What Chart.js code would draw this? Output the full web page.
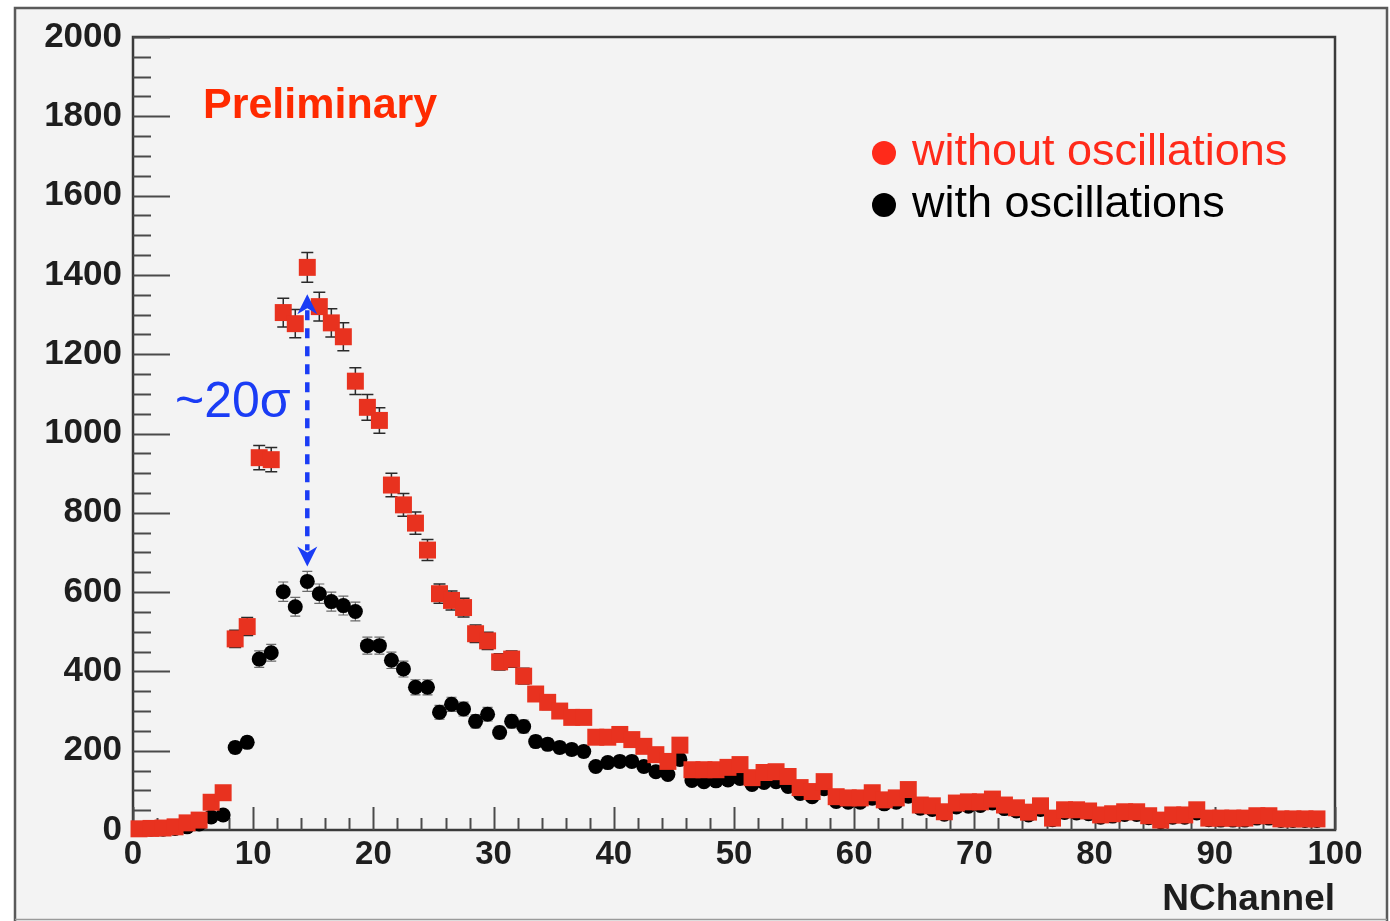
<!DOCTYPE html>
<html>
<head>
<meta charset="utf-8">
<script src="https://cdn.jsdelivr.net/npm/chart.js@4.4.1/dist/chart.umd.min.js"></script>
<style>
  html, body { margin: 0; padding: 0; background: #ffffff; }
  #wrap { width: 1390px; height: 921px; position: relative; }
</style>
</head>
<body>
<div id="wrap"><canvas id="c" width="1390" height="921"></canvas></div>
<script>
// NChannel histogram: 100 bins of width 1 from 0 to 100
const NBINS = 100;
const BIN_WIDTH = 1;

// Event counts per bin, expected without oscillations (red squares)
const countsNoOsc = [
  3, 4, 5, 8, 18, 25, 70, 94, 482, 513,
  939, 934, 1305, 1277, 1419, 1320, 1279, 1244, 1132, 1066,
  1033, 870, 820, 774, 706, 596, 579, 561, 495, 477,
  424, 431, 388, 343, 322, 300, 284, 284, 234, 234,
  241, 228, 211, 190, 173, 214, 152, 152, 152, 158,
  165, 132, 145, 147, 135, 107, 97, 122, 84, 81,
  81, 94, 76, 81, 102, 63, 61, 46, 68, 71,
  71, 78, 63, 56, 45, 61, 30, 51, 51, 48,
  38, 41, 46, 46, 36, 25, 38, 38, 51, 30,
  30, 30, 30, 36, 36, 28, 28, 28, 28, null
];

// Event counts per bin, expected with oscillations (black dots)
const countsOsc = [
  1, 2, 2, 4, 8, 15, 33, 38, 208, 221,
  431, 447, 601, 563, 627, 596, 576, 566, 551, 465,
  465, 428, 406, 360, 360, 297, 317, 305, 274, 292,
  246, 274, 261, 223, 216, 208, 203, 198, 160, 170,
  173, 173, 160, 147, 140, 178, 125, 122, 124, 126,
  130, 115, 120, 122, 110, 92, 84, 104, 72, 70,
  70, 80, 66, 70, 85, 55, 52, 40, 58, 60,
  62, 68, 54, 48, 38, 52, 26, 44, 43, 41,
  32, 35, 39, 39, 31, 21, 32, 32, 43, 26,
  25, 25, 25, 30, 30, 24, 24, 24, 24, null
];

// Axis tick labels
const xTickLabels = ['0', '10', '20', '30', '40', '50', '60', '70', '80', '90', '100'];
const yTickLabels = ['0', '200', '400', '600', '800', '1000', '1200', '1400', '1600', '1800', '2000'];

const seriesLabels = ['without oscillations', 'with oscillations'];
const xTitle = 'NChannel';
const stampText = 'Preliminary';
const significanceText = '~20\u03c3';
const peakBin = 14;

const RED = '#e8321f';
const RED_TEXT = '#ff2a1a';
const BLUE = '#1a3cf5';
const INK = '#1e1e1e';
const FONT = '"Liberation Sans", Arial, Helvetica, sans-serif';

function toPoints(counts) {
  const pts = [];
  counts.forEach((v, i) => {
    if (v !== null) pts.push({ x: i * BIN_WIDTH + BIN_WIDTH / 2, y: v });
  });
  return pts;
}

const framePlugin = {
  id: 'frame',
  beforeDraw(chart) {
    const ctx = chart.ctx;
    ctx.save();
    ctx.fillStyle = '#ffffff';
    ctx.fillRect(0, 0, chart.width, chart.height);
    // canvas panel
    ctx.fillStyle = '#f3f3f3';
    ctx.fillRect(15, 8, 1372, 913);
    ctx.strokeStyle = '#5a5a5a';
    ctx.lineWidth = 2.5;
    ctx.beginPath();
    ctx.moveTo(15, 921);
    ctx.lineTo(15, 8);
    ctx.lineTo(1387, 8);
    ctx.lineTo(1387, 921);
    ctx.stroke();
    ctx.beginPath();
    ctx.moveTo(15, 919.5);
    ctx.lineTo(1387, 919.5);
    ctx.lineWidth = 1.5;
    ctx.strokeStyle = '#9a9a9a';
    ctx.stroke();
    ctx.restore();
  },
  beforeDatasetsDraw(chart) {
    const ctx = chart.ctx;
    const a = chart.chartArea;
    const xs = chart.scales.x, ys = chart.scales.y;
    ctx.save();
    // plot frame
    ctx.strokeStyle = '#3a3a3a';
    ctx.lineWidth = 2.5;
    ctx.strokeRect(a.left, a.top, a.right - a.left, a.bottom - a.top);

    // y ticks (inward): major every 200, minor every 50
    ctx.strokeStyle = '#4a4a4a';
    ctx.lineWidth = 2;
    for (let v = 0; v <= 2000; v += 50) {
      const py = Math.round(ys.getPixelForValue(v)) + 0.5;
      const len = (v % 200 === 0) ? 37 : 18;
      ctx.beginPath();
      ctx.moveTo(a.left, py);
      ctx.lineTo(a.left + len, py);
      ctx.stroke();
    }
    // x ticks (inward): major every 10, minor every 2
    for (let v = 0; v <= 100; v += 2) {
      const px = Math.round(xs.getPixelForValue(v)) + 0.5;
      const len = (v % 10 === 0) ? 23 : 12;
      ctx.beginPath();
      ctx.moveTo(px, a.bottom);
      ctx.lineTo(px, a.bottom - len);
      ctx.stroke();
    }

    // statistical error bars (sqrt N)
    const bars = [
      { counts: countsOsc, color: '#6a6a6a', width: 1.2, cap: 5 },
      { counts: countsNoOsc, color: '#2a2a2a', width: 1.5, cap: 6 }
    ];
    bars.forEach(b => {
      ctx.strokeStyle = b.color;
      ctx.lineWidth = b.width;
      b.counts.forEach((v, i) => {
        if (v === null) return;
        const px = xs.getPixelForValue(i * BIN_WIDTH + BIN_WIDTH / 2);
        const e = Math.sqrt(v);
        const y1 = ys.getPixelForValue(v + e);
        const y2 = ys.getPixelForValue(Math.max(0, v - e));
        ctx.beginPath();
        ctx.moveTo(px, y1); ctx.lineTo(px, y2);
        ctx.moveTo(px - b.cap, y1); ctx.lineTo(px + b.cap, y1);
        ctx.moveTo(px - b.cap, y2); ctx.lineTo(px + b.cap, y2);
        ctx.stroke();
      });
    });
    ctx.restore();
  },
  afterDatasetsDraw(chart) {
    const ctx = chart.ctx;
    const a = chart.chartArea;
    const xs = chart.scales.x, ys = chart.scales.y;
    ctx.save();

    // stamp
    ctx.fillStyle = '#ff2a00';
    ctx.font = 'bold 43px ' + FONT;
    ctx.textBaseline = 'alphabetic';
    ctx.textAlign = 'left';
    ctx.fillText(stampText, 203, 118);

    // legend
    ctx.font = '45px ' + FONT;
    const legendRows = [
      { text: seriesLabels[0], color: RED_TEXT, dot: '#ff2a1a', y: 165 },
      { text: seriesLabels[1], color: '#000000', dot: '#000000', y: 217 }
    ];
    legendRows.forEach(r => {
      ctx.fillStyle = r.dot;
      ctx.beginPath();
      ctx.arc(884, r.y - 12, 12, 0, Math.PI * 2);
      ctx.fill();
      ctx.fillStyle = r.color;
      ctx.fillText(r.text, 912, r.y);
    });

    // x axis title
    ctx.fillStyle = INK;
    ctx.font = 'bold 37px ' + FONT;
    ctx.textAlign = 'right';
    ctx.fillText(xTitle, a.right, 910);

    // double-headed dashed arrow between the two spectra at the peak bin
    const px = xs.getPixelForValue(peakBin * BIN_WIDTH + BIN_WIDTH / 2);
    const rv = countsNoOsc[peakBin], bv = countsOsc[peakBin];
    const yTop = ys.getPixelForValue(rv - Math.sqrt(rv)) + 12;
    const yBot = ys.getPixelForValue(bv + Math.sqrt(bv)) - 5;
    const head = 20;
    ctx.strokeStyle = BLUE;
    ctx.fillStyle = BLUE;
    ctx.lineWidth = 4.5;
    ctx.setLineDash([10, 8]);
    ctx.beginPath();
    ctx.moveTo(px, yTop + head - 4);
    ctx.lineTo(px, yBot - head + 4);
    ctx.stroke();
    ctx.setLineDash([]);
    function arrowHead(tipY, dir) {
      ctx.beginPath();
      ctx.moveTo(px, tipY);
      ctx.lineTo(px - 10, tipY + dir * head);
      ctx.lineTo(px, tipY + dir * (head - 6));
      ctx.lineTo(px + 10, tipY + dir * head);
      ctx.closePath();
      ctx.fill();
    }
    arrowHead(yTop, 1);
    arrowHead(yBot, -1);

    ctx.font = '50px ' + FONT;
    ctx.textAlign = 'left';
    ctx.fillText(significanceText, 175, 417);
    ctx.restore();
  }
};

const ctx = document.getElementById('c').getContext('2d');
new Chart(ctx, {
  type: 'scatter',
  data: {
    datasets: [
      {
        label: seriesLabels[0],
        data: toPoints(countsNoOsc),
        pointStyle: 'rect',
        pointRadius: 12,
        backgroundColor: RED,
        borderWidth: 0,
        order: 0,
        clip: false
      },
      {
        label: seriesLabels[1],
        data: toPoints(countsOsc),
        pointStyle: 'circle',
        pointRadius: 7.5,
        backgroundColor: '#000000',
        borderWidth: 0,
        order: 1,
        clip: false
      }
    ]
  },
  options: {
    responsive: false,
    animation: false,
    devicePixelRatio: 1,
    layout: { padding: { top: 37, right: 55, left: 0, bottom: 0 } },
    plugins: { legend: { display: false }, tooltip: { enabled: false } },
    scales: {
      x: {
        type: 'linear', min: 0, max: NBINS * BIN_WIDTH,
        grid: { display: false, drawTicks: false },
        border: { display: false },
        ticks: {
          stepSize: 10,
          autoSkip: false,
          maxRotation: 0,
          padding: 5,
          color: INK,
          font: { family: FONT, size: 33, weight: 'bold' },
          callback: (v) => xTickLabels[v / 10]
        },
        afterFit(s) { s.height = 91; }
      },
      y: {
        min: 0, max: 2000,
        grid: { display: false, drawTicks: false },
        border: { display: false },
        ticks: {
          stepSize: 200,
          autoSkip: false,
          padding: 11,
          color: INK,
          font: { family: FONT, size: 35, weight: 'bold' },
          callback: (v) => yTickLabels[v / 200]
        },
        afterFit(s) { s.width = 133; }
      }
    }
  },
  plugins: [framePlugin]
});
</script>
</body>
</html>
